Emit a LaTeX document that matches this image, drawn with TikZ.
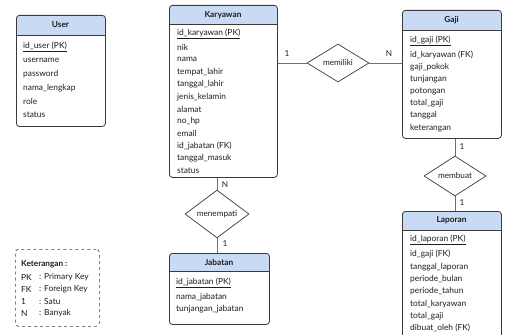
\documentclass[tikz,border=0pt]{standalone}
\usepackage{fontspec}
\setmainfont{Lato}
\usetikzlibrary{shapes.geometric}
\definecolor{hdrblue}{HTML}{C9DAF5}
\definecolor{edgegray}{HTML}{3A3A3A}
\definecolor{linkgray}{HTML}{707070}
\definecolor{inkgray}{HTML}{1E1E1E}
\tikzset{
  entity/.style={draw=edgegray, line width=0.8pt, rounded corners=3pt, inner sep=0pt,
    anchor=north west, fill=white,
    path picture={
      \fill[hdrblue] (path picture bounding box.north west) rectangle
        ([yshift=-#1]path picture bounding box.north east);
      \draw[edgegray, line width=0.6pt] ([yshift=-#1]path picture bounding box.north west) --
        ([yshift=-#1]path picture bounding box.north east);}},
  etitle/.style={font=\bfseries\fontsize{8.3}{9}\selectfont, text=inkgray, inner sep=0pt},
  attr/.style={anchor=west, font=\fontsize{8.4}{9}\selectfont, inner sep=0pt, text=inkgray},
  rel/.style={diamond, draw=edgegray, line width=0.7pt, fill=white, inner sep=0pt,
    font=\fontsize{8.2}{9}\selectfont, text=inkgray},
  conn/.style={draw=linkgray, line width=0.9pt},
  card/.style={font=\fontsize{8.2}{9}\selectfont, inner sep=0pt, text=inkgray},
  legendbox/.style={draw=edgegray, line width=0.6pt, dashed, rounded corners=3pt}
}
\begin{document}
\begin{tikzpicture}[x=1pt, y=-1pt]
\useasboundingbox (0,0) rectangle (505,334);

% ---------- User ----------
\node[entity=20pt, minimum width=89pt, minimum height=111pt] (user) at (16,15) {};
\node[etitle] (user-t) at (60.5,25) {User};
\node[attr] (user-1) at (23,47) {\underline{id\_user (PK)}};
\foreach \txt [count=\i from 2] in {username,password,nama\_lengkap,role,status}
  \node[attr] (user-\i) at (23,{47+13.6*(\i-1)}) {\txt};

% ---------- Karyawan ----------
\node[entity=19pt, minimum width=108pt, minimum height=172pt] (kar) at (169,5) {};
\node[etitle] (kar-t) at (223,15) {Karyawan};
\node[attr] (kar-1) at (177,34) {\underline{id\_karyawan (PK)}};
\foreach \txt [count=\i from 2] in {nik,nama,tempat\_lahir,tanggal\_lahir,jenis\_kelamin,
    alamat,no\_hp,email,id\_jabatan (FK),tanggal\_masuk,status}
  \node[attr] (kar-\i) at (177,{47.5+12.3*(\i-2)}) {\txt};

% ---------- Gaji ----------
\node[entity=20pt, minimum width=99pt, minimum height=128pt] (gaji) at (402,10) {};
\node[etitle] (gaji-t) at (451.5,20) {Gaji};
\node[attr] (gaji-1) at (410,41) {\underline{id\_gaji (PK)}};
\foreach \txt [count=\i from 2] in {id\_karyawan (FK),gaji\_pokok,tunjangan,potongan,
    total\_gaji,tanggal,keterangan}
  \node[attr] (gaji-\i) at (410,{54.5+12.2*(\i-2)}) {\txt};

% ---------- Laporan ----------
\node[entity=19pt, minimum width=99pt, minimum height=140pt] (lap) at (402,211) {};
\node[etitle] (lap-t) at (451.5,220.5) {Laporan};
\node[attr] (lap-1) at (410,240) {\underline{id\_laporan (PK)}};
\foreach \txt [count=\i from 2] in {id\_gaji (FK),tanggal\_laporan,periode\_bulan,
    periode\_tahun,total\_karyawan,total\_gaji,dibuat\_oleh (FK)}
  \node[attr] (lap-\i) at (410,{254.5+12.3*(\i-2)}) {\txt};

% ---------- Jabatan ----------
\node[entity=18pt, minimum width=100pt, minimum height=71pt] (jab) at (169,253) {};
\node[etitle] (jab-t) at (219,262) {Jabatan};
\node[attr] (jab-1) at (176,283) {\underline{id\_jabatan (PK)}};
\node[attr] (jab-2) at (176,297) {nama\_jabatan};
\node[attr] (jab-3) at (176,309) {tunjangan\_jabatan};

% ---------- Relationships ----------
\node[rel, minimum width=62pt, minimum height=38pt] (mem) at (338,63) {memiliki};
\node[rel, minimum width=62pt, minimum height=32pt] (mbt) at (455,176) {membuat};
\node[rel, minimum width=64pt, minimum height=38pt] (men) at (217,214) {menempati};

\draw[conn] (mem.west -| kar.east) -- (mem.west);
\draw[conn] (mem.east) -- (mem.east -| gaji.west);
\draw[conn] (mbt.north |- gaji.south) -- (mbt.north);
\draw[conn] (mbt.south) -- (mbt.south |- lap.north);
\draw[conn] (men.north |- kar.south) -- (men.north);
\draw[conn] (men.south) -- (men.south |- jab.north);

% cardinalities
\node[card] (c1) at (287,54) {1};
\node[card] (c2) at (389,54) {N};
\node[card] (c3) at (462,147) {1};
\node[card] (c4) at (462,203) {1};
\node[card] (c5) at (225,185) {N};
\node[card] (c6) at (225,244) {1};

% ---------- Legend ----------
\node[legendbox, minimum width=84pt, minimum height=77pt, anchor=north west, inner sep=0pt] (leg) at (15,249) {};
\node[attr, font=\bfseries\fontsize{8.2}{9}\selectfont] (leg-h) at (21,264) {Keterangan :};
\foreach \k/\v [count=\i] in {PK/Primary Key,FK/Foreign Key,1/Satu,N/Banyak} {
  \node[attr] (leg-k\i) at (21,{277+12.2*(\i-1)}) {\k};
  \node[attr] (leg-v\i) at (39,{277+12.2*(\i-1)}) {: \v};
}
\end{tikzpicture}
\end{document}
